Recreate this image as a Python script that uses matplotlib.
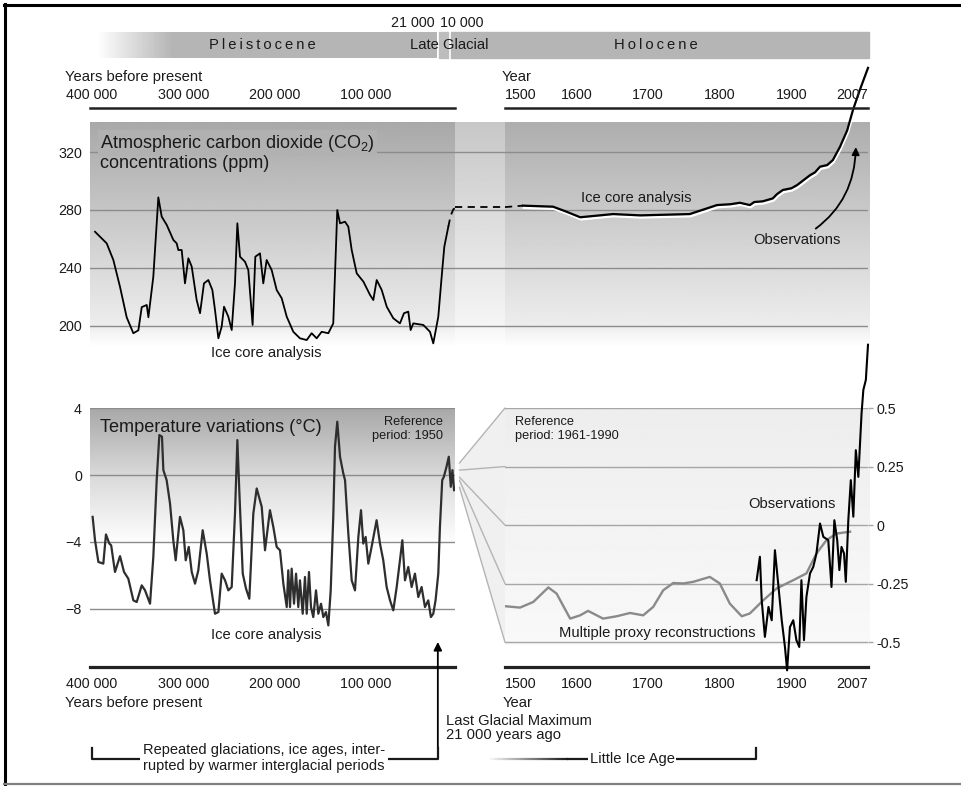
import numpy as np
import matplotlib
matplotlib.use("Agg")
import matplotlib.pyplot as plt
import matplotlib.transforms as mtransforms
from matplotlib.patches import Polygon, Rectangle, ConnectionPatch
from matplotlib.collections import LineCollection
import matplotlib.patheffects as pe

plt.rcParams['font.family'] = ['Liberation Sans', 'DejaVu Sans']
plt.rcParams['mathtext.fontset'] = 'custom'
plt.rcParams['mathtext.rm'] = 'Liberation Sans'
plt.rcParams['mathtext.it'] = 'Liberation Sans:italic'

# ---------------- data ----------------
# CO2 from ice cores, thousand years before present
co2_bp_kyr = [396.7, 383.9, 376.6, 369.3, 362, 354.7, 349.2, 345.5, 340, 338.2,
              332.8, 327.3, 323.6, 318.1, 310.8, 307.2, 305.4, 301.7, 298.1, 294.4,
              290.7, 285.3, 281.6, 277.3, 272.5, 268.1, 265.2, 261.5, 257.9, 255.3,
              250.6, 246.9, 243.3, 240.7, 237.8, 232.3, 228.7, 224, 221, 215.9,
              212.3, 208.6, 203.1, 197.6, 192.1, 186.6, 179.4, 172.1, 164.7, 159.3,
              153.8, 148.3, 141, 135.6, 131.2, 128.2, 122.7, 119.1, 115.4, 109.9,
              102.6, 95.3, 91.7, 88, 82.5, 77, 69.8, 62.5, 58.1, 53.4,
              50.8, 47.9, 36.9, 29.6, 26, 20.5, 16.8, 13.9, 9.5]
co2_ppm = [265, 257, 245.5, 227, 206, 195, 197, 213, 214.5, 206,
           234, 288.7, 275.4, 269.7, 259.3, 257, 252.4, 252.4, 229.4, 246.7,
           240.9, 217.9, 208.8, 229.4, 231.7, 224.8, 211, 191.5, 199.5, 213.3,
           206.4, 197.2, 229.4, 270.8, 247.8, 244.3, 238.6, 200.7, 247.8, 250.1,
           229.4, 245.5, 238.6, 224.8, 219.1, 206.4, 196, 191.5, 190.3, 195,
           191.5, 196, 195, 201.8, 280, 270.8, 271.9, 268.5, 252.4, 236.3,
           230.6, 221.4, 217.9, 231.7, 224.8, 213.3, 205.3, 201.8, 208.8, 209.9,
           197.2, 201.8, 200.7, 196, 188, 206.4, 234, 254.7, 268.5]
# dashed bridge (end of glacial -> Holocene -> 1500)
co2_bridge_bp_kyr = [9.5, 7, 4, 0]
co2_bridge_ppm = [268.5, 276, 280.5, 282]
co2_gap_pos = [0, 1]
co2_gap_ppm = [282, 282]
co2_dash_year = [1500, 1525]
co2_dash_ppm = [282, 283]
# CO2 since 1500 (ice core + observations)
co2_ad_year = [1525, 1567, 1585, 1605, 1651, 1689, 1758, 1796, 1815, 1828,
               1842, 1848, 1860, 1874, 1880, 1888, 1900, 1908, 1918, 1926,
               1933, 1940, 1950, 1958, 1968, 1978, 1986, 1995, 2007]
co2_ad_ppm = [283, 282.3, 279, 275, 277.2, 276.3, 277.2, 283.4, 284, 285,
              283.4, 285.5, 286, 288, 291, 293.8, 295, 297.2, 301, 304,
              306, 309.9, 311, 314.5, 323.7, 335, 349, 362, 378]

# temperature from ice cores (deg C, relative to 1950)
temp_bp_kyr = [399.3, 396.7, 393, 387.6, 384.7, 381, 379, 374.8, 369.3, 364.9,
               360.2, 354.7, 351, 345.5, 341.9, 336.4, 332.8, 329.1, 326.2, 323.3,
               321.8, 318.2, 314.5, 310.9, 308.3, 303.6, 299.9, 297.3, 294, 290.7,
               287.1, 283.5, 278.7, 274.3, 270.7, 265.2, 261.5, 257.9, 254.2, 250.6,
               246.9, 243.3, 240.7, 238.6, 234.8, 231.2, 227.6, 223.2, 219.5, 214,
               210.4, 205, 201.3, 197.6, 194, 190.3, 186.6, 184.9, 183, 181.2,
               178.6, 176.4, 173.9, 172.1, 169.1, 166.6, 164.7, 162.2, 160, 157.5,
               154.5, 152, 149, 146.5, 143.6, 141, 138.4, 135.6, 133.7, 131.2,
               128.2, 124.6, 122.7, 119.1, 115.4, 111.8, 108.1, 105.2, 102.7, 100.1,
               97.2, 93.6, 88.1, 84.4, 80.8, 77.1, 73.4, 69.8, 66.1, 62.5,
               59.9, 57, 53.4, 49.7, 46.1, 42.4, 38.8, 35.1, 31.5, 28.6,
               26, 23.5, 20.5, 18.7, 16.2, 14.4, 11.5, 9, 6.8, 5,
               3.2]
temp_c = [-2.5, -3.9, -5.2, -5.3, -3.55, -4.1, -4.2, -5.8, -4.85, -5.8,
          -6.2, -7.5, -7.6, -6.6, -6.9, -7.7, -4.9, -0.3, 2.4, 2.3,
          0.3, -0.3, -1.7, -3.9, -5.1, -2.5, -3.3, -5.1, -4.3, -5.8,
          -6.5, -5.7, -3.3, -4.7, -6.3, -8.3, -8.2, -5.9, -6.3, -6.9,
          -6.7, -2.3, 2.1, -0.9, -5.9, -6.8, -7.4, -2.3, -0.8, -1.9,
          -4.5, -2.1, -3.1, -4.3, -4.5, -6.5, -7.9, -5.7, -7.9, -5.6,
          -7.7, -5.9, -7.9, -6.3, -8.3, -6.1, -8.3, -5.8, -7.9, -8.5,
          -6.9, -8.3, -7.7, -8.5, -8.2, -9.0, -6.9, -2.5, 1.7, 3.2,
          1.1, 0.1, -0.3, -3.5, -6.3, -6.9, -3.7, -2.1, -4.1, -3.7,
          -5.3, -4.3, -2.7, -4.1, -5.1, -6.7, -7.5, -8.1, -6.7, -5.1,
          -3.9, -6.3, -5.5, -6.7, -5.9, -7.3, -6.7, -7.9, -7.5, -8.5,
          -8.3, -7.5, -5.9, -3.1, -0.3, -0.1, 0.5, 1.1, -0.7, 0.3,
          -0.9]

# multiple proxy reconstruction (deg C, relative to 1961-1990)
proxy_year = [1500, 1521, 1539.5, 1560.5, 1572, 1591, 1605, 1616, 1637, 1656,
              1674.6, 1693, 1707, 1721, 1735, 1749, 1763, 1786, 1800, 1814,
              1830.6, 1842, 1861, 1879.5, 1902.6, 1921, 1935, 1949, 1963, 1982]
proxy_temp = [-0.346, -0.352, -0.328, -0.266, -0.292, -0.399, -0.385, -0.366, -0.399, -0.389,
              -0.375, -0.385, -0.349, -0.278, -0.247, -0.249, -0.242, -0.221, -0.249, -0.335,
              -0.389, -0.377, -0.32, -0.27, -0.235, -0.206, -0.121, -0.064, -0.036, -0.028]
# instrumental observations
obs_year = [1851.5, 1856, 1858.5, 1863, 1868, 1872.5, 1877, 1882, 1886.5, 1891,
            1894, 1898, 1902.6, 1907, 1911, 1914, 1917.6, 1921, 1926, 1930.6,
            1935, 1940, 1944.6, 1951.5, 1956, 1960, 1964, 1967, 1970, 1973.5,
            1976, 1979.5, 1983, 1986.5, 1990, 1993.5, 1998, 2000.5, 2004, 2007]
obs_temp = [-0.235, -0.135, -0.32, -0.477, -0.349, -0.406, -0.107, -0.264, -0.406, -0.52,
            -0.62, -0.435, -0.406, -0.491, -0.52, -0.235, -0.491, -0.306, -0.206, -0.178,
            -0.121, 0.007, -0.05, -0.064, -0.264, 0.021, -0.064, -0.192, -0.093, -0.121,
            -0.242, 0.021, 0.192, 0.036, 0.32, 0.206, 0.477, 0.577, 0.62, 0.77]

co2_ticks = [200, 240, 280, 320]
temp_left_ticks = [4, 0, -4, -8]
temp_right_ticks = [0.5, 0.25, 0, -0.25, -0.5]
temp_right_labels = ['0.5', '0.25', '0', '-0.25', '-0.5']
bp_ticks = [400000, 300000, 200000, 100000]
bp_labels = ['400 000', '300 000', '200 000', '100 000']
ad_ticks = [1500, 1600, 1700, 1800, 1900, 2007]
ad_labels = ['1500', '1600', '1700', '1800', '1900', '2007']
fan_left = [0.72, 0.3, -0.12, -0.3, -0.72]
glaciation_span = [400000, 21000]
little_ice_age = [1475, 1850]
lgm_bp = 21000
obs_arrow_tip = (1990, 323.4)
obs_label_pos = (1908, 259.3)

# ---------------- layout ----------------
W, H = 961, 786
fig = plt.figure(figsize=(W / 100, H / 100), dpi=100)


def pax(x0, y0, x1, y1, z):
    ax = fig.add_axes([x0 / W, 1 - y1 / H, (x1 - x0) / W, (y1 - y0) / H], zorder=z)
    ax.patch.set_alpha(0)
    for s in ax.spines.values():
        s.set_visible(False)
    return ax


bg = pax(0, 0, W, H, 0)
fg = pax(0, 0, W, H, 10)
for a in (bg, fg):
    a.set_xticks([]); a.set_yticks([])


def vgrad(x0, x1, y0, y1, ys, vals):
    yy = np.linspace(y0, y1, 300)
    g = np.interp(yy, ys, vals)[:, None]
    bg.imshow(g, extent=(x0, x1, y1, y0), cmap='gray', vmin=0, vmax=1,
              aspect='auto', interpolation='bilinear', zorder=1)


def hgrad(x0, x1, y0, y1, xs, vals):
    xx = np.linspace(x0, x1, 400)
    g = np.interp(xx, xs, vals)[None, :]
    bg.imshow(g, extent=(x0, x1, y1, y0), cmap='gray', vmin=0, vmax=1,
              aspect='auto', interpolation='bilinear', zorder=1)


# period bar
hgrad(97, 437, 32, 58, [97, 172, 437], [1.0, 0.71, 0.71])
bg.add_patch(Rectangle((439, 32), 9, 26, color=(0.74,) * 3, zorder=1))
bg.add_patch(Rectangle((451, 32), 418, 26, color=(0.71,) * 3, zorder=1))
# CO2 panel backgrounds
vgrad(90, 455, 122, 347, [122, 326, 347], [0.66, 0.93, 1.0])
vgrad(455, 505, 122, 347, [122, 326, 347], [0.78, 0.96, 1.0])
vgrad(505, 870, 122, 347, [122, 326, 347], [0.68, 0.93, 1.0])
# temperature backgrounds
vgrad(90, 455, 408, 545, [408, 475, 545], [0.66, 0.85, 1.0])
vgrad(505, 870, 408, 645, [408, 645], [0.93, 0.975])
# frame
bg.plot([4, W], [4.5, 4.5], color='black', lw=2.2, zorder=3)
bg.plot([5, 5], [4, H], color='black', lw=2.2, zorder=3)
bg.plot([4, W], [784, 784], color='#808080', lw=1.6, zorder=3)
bg.set_xlim(0, W); bg.set_ylim(H, 0)
fg.set_xlim(0, W); fg.set_ylim(H, 0)

TXT = '#1a1a1a'
GRID = '#8c8c8c'
TICK_FS = 10.3
FS = 10.6

# ---- CO2 axes ----
xl = (402190, 2190)
ax_cl = pax(90, 122, 455, 347, 2)
ax_cb = pax(455, 122, 505, 347, 2)
ax_cr = pax(505, 122, 868, 347, 2)
for a in (ax_cl, ax_cb, ax_cr):
    a.set_ylim(185.5, 340.7)
    a.set_yticks(co2_ticks)
    a.yaxis.grid(True, color=GRID, lw=1)
    a.set_xticks([])
    a.tick_params(axis='y', length=0, labelsize=TICK_FS, labelcolor=TXT, pad=5.8)
    a.set_axisbelow(True)
ax_cb.tick_params(labelleft=False)
ax_cr.tick_params(labelleft=False)
ax_cl.set_xlim(xl)
ax_cb.set_xlim(0, 1)
ax_cr.set_xlim(1500, 2007)

ax_cl.plot(np.array(co2_bp_kyr) * 1000, co2_ppm, color='black', lw=1.3, zorder=3)
ax_cl.plot(np.array(co2_bridge_bp_kyr) * 1000, co2_bridge_ppm, color='black', lw=1.3,
           ls=(0, (4, 3)), clip_on=False, zorder=3)
ax_cb.plot(co2_gap_pos, co2_gap_ppm, color='black', lw=1.3, ls=(0, (4, 3)),
           clip_on=False, zorder=3)
ax_cr.plot(co2_dash_year, co2_dash_ppm, color='black', lw=1.3, ls=(0, (4, 3)),
           clip_on=False, zorder=3)
ax_cr.plot(co2_ad_year, co2_ad_ppm, color='black', lw=1.6, clip_on=False, zorder=4,
           path_effects=[pe.SimpleLineShadow(offset=(0.6, -1.6), shadow_color='white',
                                             alpha=1.0), pe.Normal()])
ax_cr.annotate('Observations', xy=obs_arrow_tip, xytext=obs_label_pos,
               ha='center', va='center', fontsize=FS, color=TXT,
               arrowprops=dict(arrowstyle='-|>', color='black', lw=1.3,
                               connectionstyle='arc3,rad=0.3', mutation_scale=11,
                               shrinkA=2, shrinkB=0))

# ---- temperature axes ----
ax_tl = pax(90, 408, 455, 667, 2)
ax_tl.set_xlim(xl)
ax_tl.set_ylim(-11.49, 4.02)
ax_tl.set_yticks(temp_left_ticks)
ax_tl.yaxis.grid(True, color=GRID, lw=1)
ax_tl.set_axisbelow(True)
ax_tl.set_xticks(bp_ticks)
ax_tl.set_xticklabels(bp_labels)
ax_tl.tick_params(axis='y', length=0, labelsize=TICK_FS, labelcolor=TXT, pad=5.8)
ax_tl.tick_params(axis='x', length=0, labelsize=TICK_FS, labelcolor=TXT, pad=7)
ax_tl.spines['bottom'].set_visible(True)
ax_tl.spines['bottom'].set_linewidth(2.3)
ax_tl.spines['bottom'].set_color('#222222')
ax_tl.plot(np.array(temp_bp_kyr) * 1000, temp_c, color='#2e2e2e', lw=1.6, zorder=3)

ax_tr = pax(505, 408, 868, 667, 2)
ax_tr.set_xlim(1500, 2007)
ax_tr.set_ylim(-0.6056, 0.5)
ax_tr.yaxis.tick_right()
ax_tr.set_yticks(temp_right_ticks)
ax_tr.set_yticklabels(temp_right_labels)
ax_tr.yaxis.grid(True, color='#a6a6a6', lw=1)
ax_tr.set_axisbelow(True)
ax_tr.tick_params(axis='y', direction='out', length=3.6, color='#a6a6a6', width=1,
                  labelsize=TICK_FS, labelcolor=TXT, pad=2.5)
ax_tr.set_xticks(ad_ticks)
ax_tr.set_xticklabels(ad_labels)
ax_tr.tick_params(axis='x', length=0, labelsize=TICK_FS, labelcolor=TXT, pad=7)
xt = ax_tr.get_xticklabels()
xt[0].set_ha('left'); xt[-1].set_ha('right')
ax_tr.spines['bottom'].set_visible(True)
ax_tr.spines['bottom'].set_linewidth(2.3)
ax_tr.spines['bottom'].set_color('#222222')
ax_tr.plot(proxy_year, proxy_temp, color='#8a8a8a', lw=1.7, zorder=3)
ax_tr.plot(obs_year, obs_temp, color='black', lw=1.5, clip_on=False, zorder=4)

# fan (zoom) between left and right temperature panels
blendA = mtransforms.blended_transform_factory(ax_tl.transAxes, ax_tl.transData)
xa = 1.012
for v, lvl in zip(fan_left, temp_right_ticks):
    cp = ConnectionPatch(xyA=(xa, v), coordsA=blendA, xyB=(1500, lvl),
                         coordsB=ax_tr.transData, color='#b4b4b4', lw=1, zorder=1)
    fig.add_artist(cp)
inv = bg.transData.inverted()
pts = [blendA.transform((xa, fan_left[0])),
       ax_tr.transData.transform((1500, temp_right_ticks[0])),
       ax_tr.transData.transform((1500, temp_right_ticks[-1])),
       blendA.transform((xa, fan_left[-1]))]
bg.add_patch(Polygon(inv.transform(np.array(pts)), closed=True,
                     facecolor=(0.94,) * 3, edgecolor='none', zorder=1))

# top axes (years BP / Year)
ax_top_l = pax(90, 106, 455, 108, 2)
ax_top_l.set_xlim(xl)
ax_top_r = pax(505, 106, 868, 108, 2)
ax_top_r.set_xlim(1500, 2007)
for a, tk, lb in ((ax_top_l, bp_ticks, bp_labels), (ax_top_r, ad_ticks, ad_labels)):
    a.set_yticks([])
    a.set_xticks(tk)
    a.set_xticklabels(lb)
    a.xaxis.tick_top()
    a.tick_params(axis='x', length=0, labelsize=TICK_FS, labelcolor=TXT, pad=3)
    a.spines['bottom'].set_visible(True)
    a.spines['bottom'].set_linewidth(1.8)
    a.spines['bottom'].set_color('#222222')
xt = ax_top_r.get_xticklabels()
xt[0].set_ha('left'); xt[-1].set_ha('right')

# ---- annotations ----
blend_tl = mtransforms.blended_transform_factory(ax_tl.transData, fg.transData)
blend_tr = mtransforms.blended_transform_factory(ax_tr.transData, fg.transData)

ax_tl.annotate('', xy=(lgm_bp, 642), xycoords=blend_tl, xytext=(lgm_bp, 747),
               textcoords=blend_tl, annotation_clip=False,
               arrowprops=dict(arrowstyle='-|>', color='black', lw=1.3,
                               mutation_scale=12, shrinkA=0, shrinkB=0))
# glaciation bracket
g0, g1 = glaciation_span
ax_tl.plot([g0, g0, g1, g1], [748, 759, 759, 748], transform=blend_tl,
           color='#1a1a1a', lw=1.6, clip_on=False, zorder=3)
# little ice age bracket with fading start
l0, l1 = little_ice_age
fx = np.linspace(l0, l0 + 0.3 * (l1 - l0), 40)
segs = [[(fx[i], 759), (fx[i + 1], 759)] for i in range(len(fx) - 1)]
cols = [(0.1, 0.1, 0.1, a) for a in np.linspace(0.0, 1.0, len(segs))]
ax_tr.add_collection(LineCollection(segs, colors=cols, linewidths=1.6,
                                    transform=blend_tr, clip_on=False, zorder=3))
ax_tr.plot([fx[-1], l1, l1], [759, 759, 748], transform=blend_tr, color='#1a1a1a',
           lw=1.6, clip_on=False, zorder=3)


def T(x, y, s, **kw):
    kw.setdefault('fontsize', FS)
    kw.setdefault('color', TXT)
    kw.setdefault('va', 'center')
    return fg.text(x, y, s, **kw)


TS = '\u2009'
T(435, 23, '21 000', ha='right', fontsize=TICK_FS)
T(440, 23, '10 000', ha='left', fontsize=TICK_FS)
T(262, 45, TS.join('Pleistocene'), ha='center', fontsize=FS)
T(449, 45, 'Late Glacial', ha='center', fontsize=FS)
T(656, 45, TS.join('Holocene'), ha='center', fontsize=FS)
T(65, 77, 'Years before present', ha='left')
T(502, 77, 'Year', ha='left')

T(100, 143, 'Atmospheric carbon dioxide (CO$_2$)', ha='left', fontsize=13,
  bbox=dict(boxstyle='square,pad=0.12', facecolor=(0.695,) * 3, edgecolor='none'))
T(100, 163, 'concentrations (ppm)', ha='left', fontsize=13)
T(266, 353, 'Ice core analysis', ha='center')
T(636, 198, 'Ice core analysis', ha='center')

T(100, 427, 'Temperature variations (°C)', ha='left', fontsize=13.1)
T(443, 429, 'Reference\nperiod: 1950', ha='right', fontsize=9.2, linespacing=1.25,
  ma='right')
T(515, 429, 'Reference\nperiod: 1961-1990', ha='left', fontsize=9.2, linespacing=1.25)
T(266, 635, 'Ice core analysis', ha='center')
T(748, 504, 'Observations', ha='left')
T(559, 633, 'Multiple proxy reconstructions', ha='left')

T(65, 703, 'Years before present', ha='left')
T(503, 703, 'Year', ha='left')
T(446, 728, 'Last Glacial Maximum\n21 000 years ago', ha='left', linespacing=1.05)
T(264, 758, 'Repeated glaciations, ice ages, inter-\nrupted by warmer interglacial periods',
  ha='center', fontsize=10.5, linespacing=1.1,
  bbox=dict(boxstyle='square,pad=0.2', facecolor='white', edgecolor='none'))
T(632, 759, 'Little Ice Age', ha='center',
  bbox=dict(boxstyle='square,pad=0.1', facecolor='white', edgecolor='none'))

fig.savefig('out.png', dpi=100)
